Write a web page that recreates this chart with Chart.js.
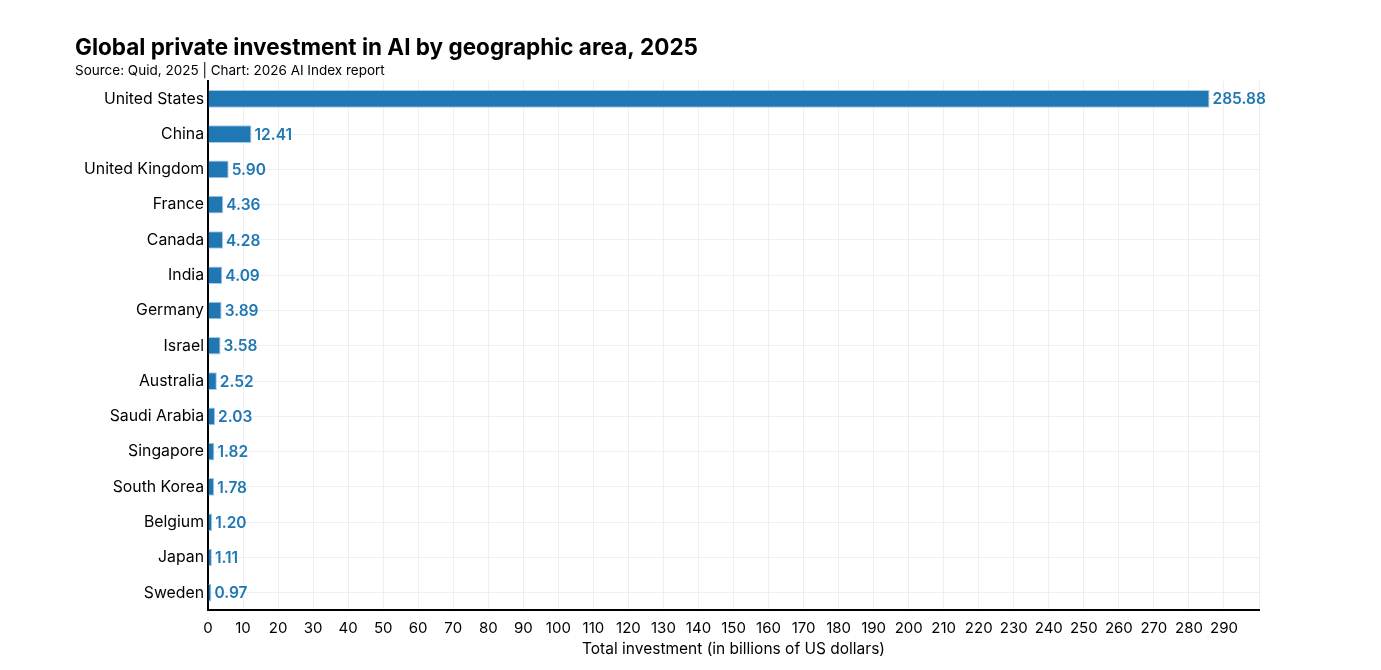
<!DOCTYPE html>
<html>
<head>
<meta charset="utf-8">
<script src="https://cdn.jsdelivr.net/npm/chart.js@4.4.1/dist/chart.umd.min.js"></script>
<style>
  html, body { margin: 0; padding: 0; background: #fff; }
  #wrap { width: 1381px; height: 670px; }
</style>
</head>
<body>
<div id="wrap"><canvas id="chart"></canvas></div>
<script>
const countries = ['United States', 'China', 'United Kingdom', 'France', 'Canada', 'India', 'Germany',
  'Israel', 'Australia', 'Saudi Arabia', 'Singapore', 'South Korea', 'Belgium', 'Japan', 'Sweden'];
const investment = [285.88, 12.41, 5.90, 4.36, 4.28, 4.09, 3.89, 3.58, 2.52, 2.03, 1.82, 1.78, 1.20, 1.11, 0.97];
const xMax = 300;
const xStep = 10;

const FONT = 'Inter, "Noto Sans", sans-serif';
const BLUE = '#1f77b4';

// values printed to the right of each bar
const valueLabels = {
  id: 'valueLabels',
  afterDatasetsDraw(chart) {
    const c = chart.ctx;
    const meta = chart.getDatasetMeta(0);
    c.save();
    c.font = '600 15.5px ' + FONT;
    c.fillStyle = BLUE;
    c.textAlign = 'left';
    c.textBaseline = 'middle';
    meta.data.forEach((bar, i) => {
      c.fillText(investment[i].toFixed(2), bar.x + 3, bar.y + 1);
    });
    c.restore();
  }
};

new Chart(document.getElementById('chart'), {
  type: 'bar',
  data: {
    labels: countries,
    datasets: [{
      data: investment,
      backgroundColor: BLUE,
      borderColor: '#a9c9e6',
      borderWidth: 1,
      barPercentage: 0.5,
      categoryPercentage: 1.0
    }]
  },
  plugins: [valueLabels],
  options: {
    indexAxis: 'y',
    responsive: true,
    maintainAspectRatio: false,
    animation: false,
    layout: { padding: { left: 75, right: 122, top: 35, bottom: 11 } },
    plugins: {
      legend: { display: false },
      tooltip: { enabled: false },
      title: {
        display: true,
        text: 'Global private investment in AI by geographic area, 2025',
        align: 'start',
        color: '#000',
        font: { family: FONT, size: 22.5, weight: '700' },
        padding: { top: 0, bottom: 1 }
      },
      subtitle: {
        display: true,
        text: 'Source: Quid, 2025 | Chart: 2026 AI Index report',
        align: 'start',
        color: '#000',
        font: { family: FONT, size: 13.5 },
        padding: { top: 0, bottom: 2 }
      }
    },
    scales: {
      x: {
        min: 0,
        max: xMax,
        border: { display: true, color: '#000', width: 2 },
        grid: { color: '#efefef', drawTicks: false },
        ticks: {
          stepSize: xStep,
          color: '#000',
          padding: 9,
          maxRotation: 0,
          autoSkip: false,
          font: { family: FONT, size: 15 },
          callback: (v) => v === xMax ? '' : v
        },
        title: {
          display: true,
          text: 'Total investment (in billions of US dollars)',
          color: '#000',
          font: { family: FONT, size: 15.5 },
          padding: { top: -6, bottom: 0 }
        }
      },
      y: {
        border: { display: true, color: '#000', width: 2 },
        grid: { color: '#efefef', drawTicks: false, offset: false },
        ticks: {
          color: '#000',
          padding: 4,
          font: { family: FONT, size: 15.8 }
        },
        afterFit(scale) { scale.width = 133; }
      }
    }
  }
});
</script>
</body>
</html>
